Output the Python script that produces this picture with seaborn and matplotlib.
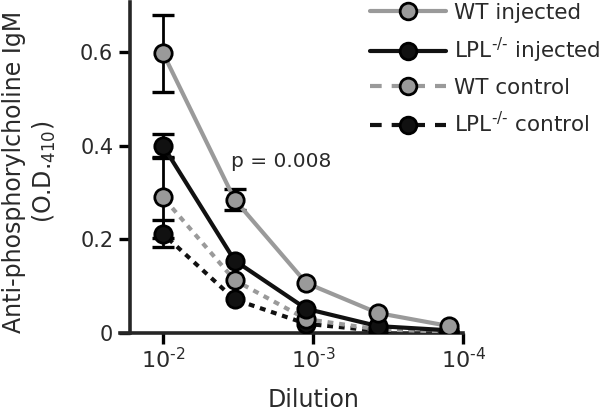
import numpy as np
import pandas as pd
import matplotlib
matplotlib.use("Agg")
import matplotlib.pyplot as plt
import seaborn as sns
from matplotlib.lines import Line2D

# dilution factors (3-fold series)
dilucion = [1/100, 1/300, 1/900, 1/2700, 1/8100]

wt_iny = [0.598, 0.285, 0.107, 0.043, 0.015]
wt_iny_err = [0.082, 0.022, 0.0, 0.0, 0.0]
lpl_iny = [0.400, 0.155, 0.052, 0.015, 0.006]
lpl_iny_err = [0.026, 0.0, 0.0, 0.0, 0.0]
wt_ctrl = [0.290, 0.113, 0.030, 0.008, 0.003]
wt_ctrl_err = [0.086, 0.0, 0.0, 0.0, 0.0]
lpl_ctrl = [0.212, 0.072, 0.020, 0.005, 0.002]
lpl_ctrl_err = [0.029, 0.0, 0.0, 0.0, 0.0]

etiquetas = ["WT injected", r"LPL$^{\text{-/-}}$ injected", "WT control",
             r"LPL$^{\text{-/-}}$ control"]
ticks_x = [1e-2, 1e-3, 1e-4]
ticks_x_lab = [r'10$^{\text{-2}}$', r'10$^{\text{-3}}$', r'10$^{\text{-4}}$']
ticks_y = [0, 0.2, 0.4, 0.6]
ticks_y_lab = ['0', '0.2', '0.4', '0.6']

sns.set_style("ticks")
plt.rcParams['font.family'] = ['DejaVu Sans']
plt.rcParams['mathtext.fontset'] = 'dejavusans'
txt = '#2a2a2a'

fig = plt.figure(figsize=(6, 4.18), dpi=100)
ax = fig.add_axes([0.2, 0.203, 0.572, 0.792])

gris = '#9a9a9a'
negro = '#111111'
punteado = (0, (1.4, 1.4))
series = [
    (wt_iny, wt_iny_err, gris, '-'),
    (lpl_iny, lpl_iny_err, negro, '-'),
    (wt_ctrl, wt_ctrl_err, gris, punteado),
    (lpl_ctrl, lpl_ctrl_err, negro, punteado),
]

# draw back-to-front so WT injected sits on top
for vals, err, col, ls in reversed(series):
    df = pd.DataFrame({'x': dilucion, 'y': vals})
    sns.lineplot(data=df, x='x', y='y', ax=ax, color=col, lw=3, linestyle=ls,
                 marker='o', markersize=12.5, markerfacecolor=col,
                 markeredgecolor='black', markeredgewidth=2, zorder=3)
    e = np.array(err)
    m = e > 0
    ax.errorbar(np.array(dilucion)[m], np.array(vals)[m], yerr=e[m], fmt='none',
                ecolor='black', elinewidth=2, capsize=8, capthick=2.4, zorder=2)

ax.set_xscale('log')
ax.set_xlim(10**-1.713, 1e-4)
ax.set_ylim(0, 0.707)
ax.set_xticks(ticks_x)
ax.set_xticklabels(ticks_x_lab)
ax.minorticks_off()
ax.set_yticks(ticks_y)
ax.set_yticklabels(ticks_y_lab)

for s in ['top', 'right']:
    ax.spines[s].set_visible(False)
ax.spines['left'].set_position(('axes', 0.029))
ax.spines['left'].set_linewidth(2.6)
ax.spines['bottom'].set_linewidth(2.6)
ax.tick_params(axis='both', width=2.4, length=8, colors='black', labelcolor=txt)
ax.tick_params(axis='y', labelsize=15, pad=4)
ax.tick_params(axis='x', labelsize=16, pad=2)

ax.set_xlabel('Dilution', fontsize=17, color=txt)
ax.xaxis.set_label_coords((313 - 120) / 343, -(400 - 333) / 331)
ax.xaxis.label.set_va('center')
ax.set_ylabel('Anti-phosphorylcholine IgM\n(O.D.$_{410}$)', fontsize=17,
              color=txt, linespacing=1.25)
ax.yaxis.set_label_coords(-(120 - 30) / 343, (333 - 172) / 331)
ax.yaxis.label.set_va('center')
ax.text(10**-2.787, 0.366, 'p = 0.008', fontsize=14.5, color=txt, ha='center', va='center')

handles = []
for vals, err, col, ls in series:
    hls = '-' if ls == '-' else (0, (2.8, 2.4))
    handles.append(Line2D([], [], color=col, lw=3, linestyle=hls, marker='o',
                          markersize=12, markerfacecolor=col,
                          markeredgecolor='black', markeredgewidth=2))
leg = fig.legend(handles, etiquetas, loc='upper left', bbox_to_anchor=(0.617, 0.993),
                 frameon=False, fontsize=15.5, handlelength=3.5, labelspacing=0.6,
                 handletextpad=0.37, borderaxespad=0, borderpad=0)
for t in leg.get_texts():
    t.set_color(txt)

fig.savefig('out.png', dpi=100)
